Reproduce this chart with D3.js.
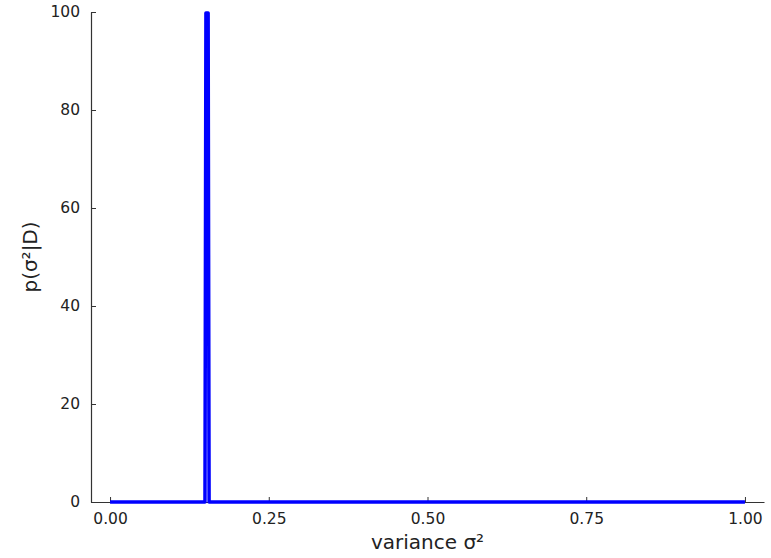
<!DOCTYPE html>
<html>
<head>
<meta charset="utf-8">
<script src="https://cdn.jsdelivr.net/npm/d3@7"></script>
<style>
body { margin: 0; background: #fff; }
text { font-family: "DejaVu Sans", sans-serif; }
</style>
</head>
<body>
<svg class="chart" width="771" height="558"></svg>
<script>
// posterior density over variance
const sigma2 = [0, 0.1495, 0.151, 0.1545, 0.156, 1];
const density = [0, 0, 99.8, 99.8, 0, 0];
const xTicks = [0, 0.25, 0.5, 0.75, 1];
const yTicks = [0, 20, 40, 60, 80, 100];

const svg = d3.select('svg.chart');
const margin = { top: 12, right: 7, bottom: 56, left: 91 };
const width = +svg.attr('width');
const height = +svg.attr('height');
const innerWidth = width - margin.left - margin.right;
const innerHeight = height - margin.top - margin.bottom;

const xScale = d3.scaleLinear().domain([-0.03, 1.03]).range([0, innerWidth]);
const yScale = d3.scaleLinear().domain([0, 100]).range([innerHeight, 0]);

const g = svg.append('g')
    .attr('transform', `translate(${margin.left}, ${margin.top})`);

const xAxis = g.append('g')
    .attr('transform', `translate(0, ${innerHeight})`)
    .call(d3.axisBottom(xScale).tickValues(xTicks).tickFormat(d3.format('.2f')).tickSizeInner(-5).tickSizeOuter(0).tickPadding(11));

const yAxis = g.append('g')
    .call(d3.axisLeft(yScale).tickValues(yTicks).tickSizeInner(-5).tickSizeOuter(0).tickPadding(11));

[xAxis, yAxis].forEach(a => {
    a.select('.domain').attr('stroke', '#333').attr('stroke-width', 1.2);
    a.selectAll('.tick line').attr('stroke', '#333');
    a.selectAll('.tick text').attr('fill', '#222').style('font-size', '15.5px');
});

const line = d3.line()
    .x((d, i) => xScale(sigma2[i]))
    .y(d => yScale(d));

g.append('path')
    .datum(density)
    .attr('fill', 'none')
    .attr('stroke', '#0000ff')
    .attr('stroke-width', 3.5)
    .attr('stroke-linejoin', 'round')
    .attr('d', line);

svg.append('text')
    .attr('x', margin.left + innerWidth / 2)
    .attr('y', 549)
    .attr('text-anchor', 'middle')
    .attr('fill', '#222')
    .style('font-size', '20px')
    .text('variance σ²');

svg.append('text')
    .attr('transform', `translate(37, ${margin.top + innerHeight / 2}) rotate(-90)`)
    .attr('text-anchor', 'middle')
    .attr('fill', '#222')
    .style('font-size', '20px')
    .text('p(σ²|D)');
</script>
</body>
</html>
